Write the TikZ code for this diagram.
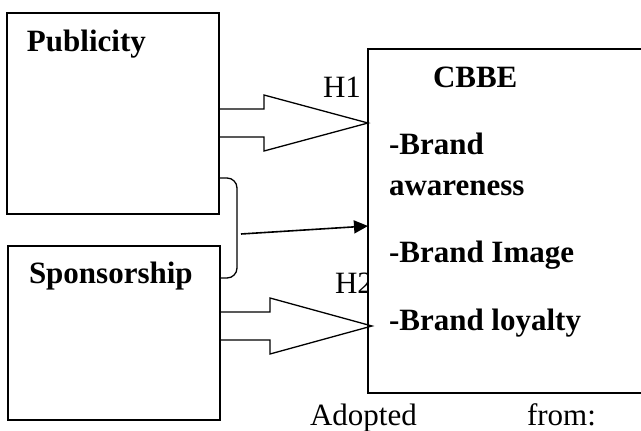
\documentclass[tikz,border=0pt]{standalone}
\usepackage{fontspec}
\setmainfont{Liberation Serif}
\usetikzlibrary{arrows.meta}
\begin{document}
\begin{tikzpicture}[x=1pt,y=-1pt,
  txt/.style={anchor=base west, inner sep=0pt, outer sep=0pt, font=\fontsize{31}{37}\selectfont},
  bold/.style={txt, font=\fontsize{31}{37}\selectfont\bfseries},
  box/.style={draw, line width=1.6pt, inner sep=0pt, outer sep=0pt, anchor=north west},
  blockarrow/.style={draw, line width=1.3pt, line join=miter},
  link/.style={line width=1.3pt},
]
\useasboundingbox (0,0) rectangle (641,431);
\clip (0,0) rectangle (641,431);

% source boxes
\node[box, minimum width=212pt, minimum height=201pt] (pub) at (7,13) {};
\node[box, minimum width=212pt, minimum height=174pt] (spon) at (8,246) {};

% hypothesis labels (H2 partly hidden behind the CBBE box)
\node[txt] (h1) at (323,97) {H1};
\node[txt] (h2) at (335,293) {H2};

% CBBE box, open towards the right
\node[box, draw=none, fill=white, minimum width=300pt, minimum height=344pt] (cbbe) at (368,49) {};
\draw[line width=1.6pt] (cbbe.north east) -- (cbbe.north west) -- (cbbe.south west) -- (cbbe.south east);

% block arrow H1: Publicity -> CBBE
\coordinate (p1) at (219,109);
\coordinate (p2) at (219,137);
\coordinate (t1) at (368,123);
\draw[blockarrow] (p1) -- (264,109) -- (264,95) -- (t1) -- (264,151) -- (264,137) -- (p2);

% block arrow H2: Sponsorship -> CBBE
\coordinate (s1) at (220,312);
\coordinate (s2) at (220,340);
\coordinate (t2) at (372,326);
\draw[blockarrow] (s1) -- (270,312) -- (270,298) -- (t2) -- (270,354) -- (270,340) -- (s2);

% bracket joining both sources, with the combined arrow
\coordinate (b1) at (219,178);
\coordinate (b2) at (237,178);
\coordinate (b3) at (237,278);
\coordinate (b4) at (220,278);
\draw[link, rounded corners=10pt] (b1) -- (b2) -- (b3) -- (b4);
\coordinate (j) at (241,234);
\coordinate (t3) at (368,226);
\draw[link, line width=1.6pt, -{Triangle[length=14pt,width=13pt]}] (j) -- (t3);

% texts
\node[bold] (tpub) at (27,52) {Publicity};
\node[bold] (tspon) at (29,283) {Sponsorship};
\node[bold] (tc) at (433,87) {CBBE};
\node[bold] (ta) at (389,154) {-Brand};
\node[bold] (tb) at (389,195) {awareness};
\node[bold] (ti) at (389,262) {-Brand Image};
\node[bold] (tl) at (389,330) {-Brand loyalty};
\node[txt] (ad1) at (310,425) {Adopted};
\node[txt] (ad2) at (527,425) {from:};
\end{tikzpicture}
\end{document}
